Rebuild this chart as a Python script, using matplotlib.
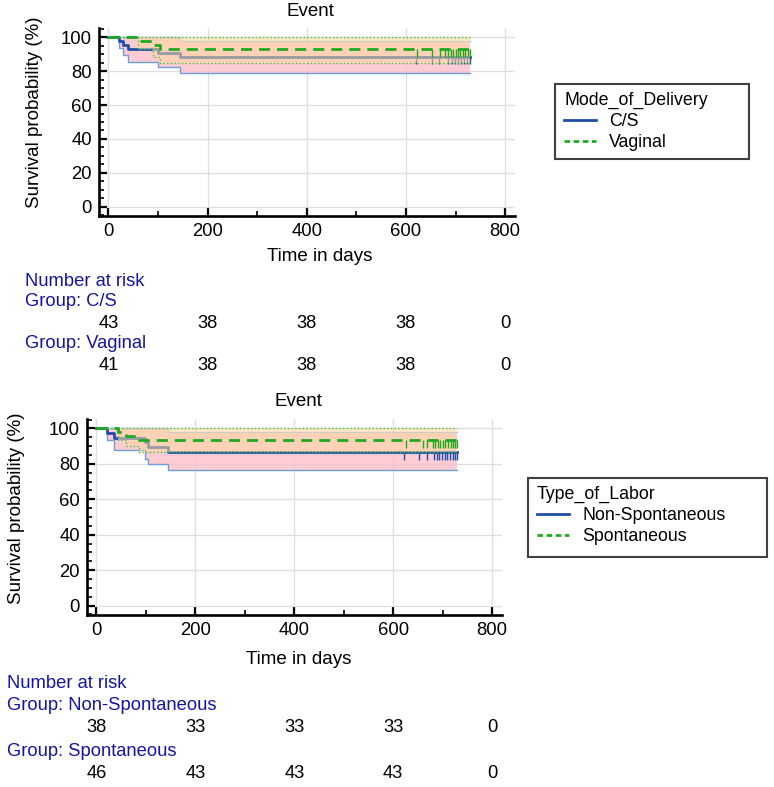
import matplotlib
matplotlib.use("Agg")
import matplotlib.pyplot as plt
from matplotlib.lines import Line2D
from matplotlib.patches import Rectangle
from matplotlib.ticker import MultipleLocator
import matplotlib.transforms as mtransforms

plt.rcParams['font.family'] = ['Liberation Sans', 'DejaVu Sans']

# ---- data ----
risk_days = [0, 200, 400, 600, 800]

# panel 1: Mode_of_Delivery
cs_days = [22, 30, 40, 101, 145]
cs_surv = [100, 97.7, 95.3, 93.0, 90.7, 88.4]
cs_lower = [100, 93.4, 89.4, 85.5, 82.5, 79.0]
cs_upper = [100, 100, 100, 100, 100, 97.9]
cs_censor = [621, 652, 667, 685, 693, 698, 705, 711, 718, 723, 729]
cs_risk = [43, 38, 38, 38, 0]

vag_days = [59, 90, 104]
vag_surv = [100, 97.6, 95.1, 92.7]
vag_lower = [100, 93.0, 88.5, 85.0]
vag_upper = [100, 100, 100, 100]
vag_censor = [623, 652, 669, 679, 685, 690, 695, 700, 705, 710, 715, 719, 725, 729]
vag_risk = [41, 38, 38, 38, 0]

# panel 2: Type_of_Labor
ns_days = [22, 36, 98, 105, 145]
ns_surv = [100, 97.4, 94.7, 92.1, 89.5, 86.8]
ns_lower = [100, 93.4, 87.8, 83.0, 79.8, 76.3]
ns_upper = [100, 100, 100, 100, 100, 97.7]
ns_censor = [622, 653, 668, 683, 689, 693, 699, 704, 709, 715, 720, 725, 729]
ns_risk = [38, 33, 33, 33, 0]

sp_days = [43, 60, 87]
sp_surv = [100, 97.8, 95.7, 93.5]
sp_lower = [100, 93.6, 90.1, 86.6]
sp_upper = [100, 100, 100, 100]
sp_censor = [625, 660, 668, 680, 685, 690, 695, 700, 705, 711, 716, 721, 725, 729]
sp_risk = [46, 43, 43, 43, 0]

end_day = 730

BLUE = '#1f4fa8'
GREEN = '#1faa1f'
LABEL_BLUE = '#1515a5'


def steps(days, vals):
    x = [0] + days + [end_day]
    y = vals + [vals[-1]]
    return x, y


def draw_group(ax, days, surv, lower, upper, censor, color, ls, fill, alpha, fill_z,
               edge_lo, edge_hi, edge_ls, z):
    x, lo = steps(days, lower)
    _, hi = steps(days, upper)
    _, s = steps(days, surv)
    ax.fill_between(x, lo, hi, step='post', color=fill, alpha=alpha, lw=0, zorder=fill_z)
    ax.step(x, lo, where='post', color=edge_lo, lw=1.0, ls=edge_ls, zorder=z)
    ax.step(x, hi, where='post', color=edge_hi, lw=1.0, ls=edge_ls, zorder=z)
    ax.step(x, s, where='post', color=color, lw=2.0, ls=ls, zorder=z)
    ax.vlines(censor, surv[-1] - 4.5, surv[-1], color=color, lw=1.0, zorder=z)


def style_axes(ax):
    ax.set_xlim(-19, 820)
    ax.set_ylim(-5.3, 105.3)
    ax.xaxis.set_major_locator(MultipleLocator(200))
    ax.xaxis.set_minor_locator(MultipleLocator(100))
    ax.yaxis.set_major_locator(MultipleLocator(20))
    ax.yaxis.set_minor_locator(MultipleLocator(5))
    ax.tick_params(which='major', direction='in', length=6, width=1.6, labelsize=13.3, pad=5)
    ax.tick_params(which='minor', direction='in', length=3.5, width=1.2)
    for side in ['top', 'right']:
        ax.spines[side].set_visible(False)
    for side in ['left', 'bottom']:
        ax.spines[side].set_linewidth(1.9)
    ax.grid(True, which='major', color='#dedede', lw=0.9, zorder=0)
    ax.set_axisbelow(True)


fig = plt.figure(figsize=(7.74, 7.87), dpi=100)
W, H = 774.0, 787.0

panels = [
    dict(box=(99, 515, 28, 216), title_x=310, title_y=12, ylab_x=43, ylab_y=112.5,
         xlab_x=320, xlab_y=248,
         a=(cs_days, cs_surv, cs_lower, cs_upper, cs_censor, cs_risk, 'C/S'),
         b=(vag_days, vag_surv, vag_lower, vag_upper, vag_censor, vag_risk, 'Vaginal'),
         legend_title='Mode_of_Delivery', legend_box=(555, 84, 749, 159), legend_at=(564, 92),
         risk_x=25, risk_y=[281, 302, 323, 344, 366]),
    dict(box=(87, 502, 419, 615), title_x=298, title_y=402, ylab_x=25, ylab_y=508,
         xlab_x=299, xlab_y=651,
         a=(ns_days, ns_surv, ns_lower, ns_upper, ns_censor, ns_risk, 'Non-Spontaneous'),
         b=(sp_days, sp_surv, sp_lower, sp_upper, sp_censor, sp_risk, 'Spontaneous'),
         legend_title='Type_of_Labor', legend_box=(528, 478, 767, 557), legend_at=(537, 486),
         risk_x=7, risk_y=[684, 705, 728, 752, 774]),
]

for p in panels:
    l, r, t, b = p['box']
    ax = fig.add_axes([l / W, 1 - b / H, (r - l) / W, (b - t) / H])
    style_axes(ax)
    ga, gb = p['a'], p['b']
    draw_group(ax, *ga[:5], color=BLUE, ls='-', fill='#ffbcc6', alpha=0.75, fill_z=2,
               edge_lo='#6f9fd8', edge_hi='#9fbfe8', edge_ls='-', z=3)
    draw_group(ax, *gb[:5], color=GREEN, ls=(0, (4, 2.5)), fill='#ffd8a0', alpha=0.55, fill_z=4,
               edge_lo='#3cc43c', edge_hi='#3cc43c', edge_ls=':', z=5)

    fs = 13.5
    fig.text(p['title_x'] / W, 1 - p['title_y'] / H, 'Event', ha='center', va='center', fontsize=fs)
    ax.set_ylabel('Survival probability (%)', fontsize=fs)
    ax.yaxis.set_label_coords((p['ylab_x'] - l) / (r - l), (b - p['ylab_y']) / (b - t))
    ax.set_xlabel('Time in days', fontsize=fs)
    ax.xaxis.set_label_coords((p['xlab_x'] - l) / (r - l), (b - p['xlab_y']) / (b - t))

    # legend: frame drawn as a plain box, entries placed inside it
    bx0, by0, bx1, by1 = p['legend_box']
    fig.patches.append(Rectangle((bx0 / W, 1 - by1 / H), (bx1 - bx0) / W, (by1 - by0) / H,
                                 transform=fig.transFigure, facecolor='white',
                                 edgecolor='#404040', lw=1.5, zorder=1))
    handles = [Line2D([], [], color=BLUE, lw=2.0),
               Line2D([], [], color=GREEN, lw=2.0, ls=(0, (2, 1.3)))]
    fig.legend(handles, [ga[6], gb[6]], title=p['legend_title'], loc='upper left',
               bbox_to_anchor=(p['legend_at'][0] / W, 1 - p['legend_at'][1] / H),
               fontsize=12.8, title_fontsize=12.8, frameon=False,
               handlelength=1.8, handletextpad=0.75, labelspacing=0.22,
               borderpad=0, borderaxespad=0, alignment='left')

    # number at risk table
    ry = p['risk_y']
    rx = p['risk_x'] / W
    fig.text(rx, 1 - ry[0] / H, 'Number at risk', color=LABEL_BLUE, fontsize=13.2, va='center')
    fig.text(rx, 1 - ry[1] / H, 'Group: ' + ga[6], color=LABEL_BLUE, fontsize=13.2, va='center')
    fig.text(rx, 1 - ry[3] / H, 'Group: ' + gb[6], color=LABEL_BLUE, fontsize=13.2, va='center')
    trans = mtransforms.blended_transform_factory(ax.transData, fig.transFigure)
    for d, na, nb in zip(risk_days, ga[5], gb[5]):
        fig.text(d, 1 - ry[2] / H, str(na), transform=trans, ha='center', va='center', fontsize=13.2)
        fig.text(d, 1 - ry[4] / H, str(nb), transform=trans, ha='center', va='center', fontsize=13.2)

fig.savefig('out.png', dpi=100)
